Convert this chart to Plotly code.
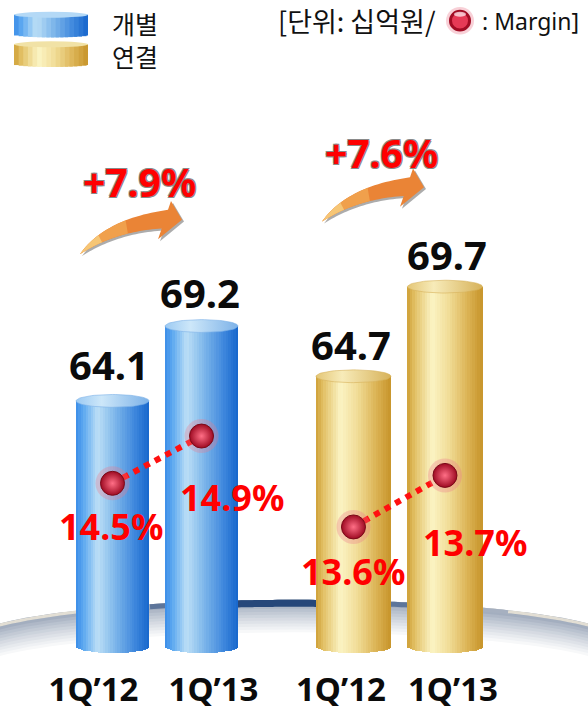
import numpy as np
import plotly.graph_objects as go

# ---------------- data ----------------
periods = ["1Q’12", "1Q’13"]
group_names = ["개별", "연결"]
sales_separate = [64.1, 69.2]          # 십억원
sales_consolidated = [64.7, 69.7]      # 십억원
margin_separate = [14.5, 14.9]         # %
margin_consolidated = [13.6, 13.7]     # %
growth_yoy = [7.9, 7.6]                # %
unit_text = "[단위: 십억원/"
margin_key_text = ": Margin]"

# ---------------- canvas helpers ----------------
W, H = 588, 711
MB = 46
PH = H - MB
FONT = "Noto Sans, Noto Sans CJK KR, sans-serif"
KFONT = "Noto Sans CJK KR, Noto Sans, sans-serif"


def pp(px, py):
    return px / W, (PH - py) / PH


def hex2rgb(h):
    h = h.lstrip("#")
    return tuple(int(h[i:i + 2], 16) for i in (0, 2, 4))


def mix(c0, c1, f):
    a, b = hex2rgb(c0), hex2rgb(c1)
    return "rgb(%d,%d,%d)" % tuple(round(a[i] + (b[i] - a[i]) * f) for i in range(3))


def grad(stops, t):
    for i in range(len(stops) - 1):
        t0, c0 = stops[i]
        t1, c1 = stops[i + 1]
        if t <= t1:
            return mix(c0, c1, (t - t0) / (t1 - t0))
    return mix(stops[-1][1], stops[-1][1], 0)


BLUE = [(0, "#3a8ce8"), (0.1, "#5ca8f0"), (0.3, "#bcdff6"), (0.5, "#86bcec"),
        (0.8, "#3f88dd"), (1, "#1766cc")]
GOLD = [(0, "#cfa036"), (0.1, "#e2c065"), (0.33, "#fbf4c4"), (0.55, "#f1dd98"),
        (0.8, "#dcb456"), (1, "#c7942a")]
BLUE_TOP = [[0, "#9ccaf3"], [0.35, "#cde7f9"], [1, "#7db2e8"]]
GOLD_TOP = [[0, "#e4c676"], [0.35, "#f7ebb9"], [1, "#d7b25a"]]

groups = [
    dict(name=group_names[0], sales=sales_separate, margin=margin_separate,
         growth=growth_yoy[0], xa="x", ya="y", ma="y3",
         dom=[0, 0.5], xr=[-1.264, 2.039], yr=[46.787, 91.412],
         mr=[13.0475, 18.589], base=47.391, pxu=14.902, w=0.82,
         stops=BLUE, top=BLUE_TOP, tick_pos=[-0.213, 1.135],
         mshift=[(-2, -43), (30, -61)], vshift=[(-4, 36), (-2, 34)],
         gpos=(139, 184), arrow_dx=(0, 0)),
    dict(name=group_names[1], sales=sales_consolidated, margin=margin_consolidated,
         growth=growth_yoy[1], xa="x2", ya="y2", ma="y4",
         dom=[0.5, 1], xr=[-0.650, 2.563], yr=[49.151, 85.689],
         mr=[13.3514, 14.6229], base=49.645, pxu=18.2, w=0.82,
         stops=GOLD, top=GOLD_TOP, tick_pos=[-0.137, 1.087],
         mshift=[(0, -45), (30, -67)], vshift=[(-2, 32), (2, 32)],
         gpos=(381, 155), arrow_dx=(242, -33)),
]

fig = go.Figure()
shapes = []
annotations = []

# ---------------- floor (stage) ----------------
CX, CY, EA, EB = 294, 653, 330, 44
NF = 12
for k in range(NF):
    d = 3 * k
    col = mix("#93a0b4", "#ffffff", (k / (NF - 1)) ** 0.8)
    x0, y0 = pp(CX - EA, CY + d + EB)
    x1, y1 = pp(CX + EA, CY + d - EB)
    shapes.append(dict(type="circle", xref="paper", yref="paper", x0=x0, x1=x1,
                       y0=y0, y1=y1, fillcolor=col, line=dict(width=0), layer="below"))


def arc_path(xa, xb, off):
    pts = []
    for x in np.linspace(xa, xb, 80):
        r = 1 - ((x - CX) / EA) ** 2
        y = CY - EB * np.sqrt(max(r, 0)) + off
        pts.append(pp(x, y))
    return "M " + " L ".join("%.5f,%.5f" % p for p in pts)


for xa, xb, col, lw in [(-30, 618, "#e2ded4", 3), (80, 508, "#a6b0c0", 4),
                        (150, 438, "#5d759a", 5), (205, 383, "#26477a", 7)]:
    shapes.append(dict(type="path", xref="paper", yref="paper",
                       path=arc_path(xa, xb, lw / 2), line=dict(color=col, width=lw),
                       layer="below"))

# ---------------- bars (cylinders) ----------------
N = 30
for g in groups:
    w = g["w"]
    hb = 7 / g["pxu"]
    for k in range(N):
        t = (k + 0.5) / N
        u = 2 * t - 1
        off = -w / 2 + k * w / N
        wid = min(w / N * 1.7, w / 2 - off)
        bk = g["base"] - hb * np.sqrt(1 - u * u)
        fig.add_trace(go.Bar(
            x=[0, 1], y=[v - bk for v in g["sales"]], base=bk,
            width=wid, offset=off, marker=dict(color=grad(g["stops"], t), line=dict(width=0)),
            xaxis=g["xa"], yaxis=g["ya"], showlegend=False, hoverinfo="skip"))
    # top ellipses
    ht = 6.5 / g["pxu"]
    th = np.linspace(0, 2 * np.pi, 73)
    for i, v in enumerate(g["sales"]):
        fig.add_trace(go.Scatter(
            x=i + (w / 2) * np.cos(th), y=v + ht * np.sin(th), mode="lines",
            fill="toself", fillgradient=dict(type="horizontal", colorscale=g["top"]),
            line=dict(width=0.6, color=g["top"][2][1]),
            xaxis=g["xa"], yaxis=g["ya"], showlegend=False, hoverinfo="skip"))
        annotations.append(dict(
            x=i, y=v, xref=g["xa"], yref=g["ya"], text="%.1f" % v, showarrow=False,
            xshift=g["vshift"][i][0], yshift=g["vshift"][i][1], yanchor="middle",
            font=dict(family=FONT, size=40, color="#0b0b0b", weight="bold")))

    # margin line + dots
    fig.add_trace(go.Scatter(
        x=[0, 1], y=g["margin"], mode="lines",
        line=dict(color="#ff1010", width=6, dash="6px,6px"),
        xaxis=g["xa"], yaxis=g["ma"], showlegend=False, hoverinfo="skip"))
    fig.add_trace(go.Scatter(
        x=[0, 1], y=g["margin"], mode="markers",
        marker=dict(size=34, color="rgba(235,120,140,0.32)", line=dict(width=0)),
        xaxis=g["xa"], yaxis=g["ma"], showlegend=False, hoverinfo="skip"))
    fig.add_trace(go.Scatter(
        x=[0, 1], y=g["margin"], mode="markers",
        marker=dict(size=24, color="#9e0a22",
                    gradient=dict(type="radial", color="#ff6f86"),
                    line=dict(width=1, color="#7a0a18")),
        xaxis=g["xa"], yaxis=g["ma"], showlegend=False, hoverinfo="skip"))
    for i, m in enumerate(g["margin"]):
        annotations.append(dict(
            x=i, y=m, xref=g["xa"], yref=g["ma"], text="%.1f%%" % m, showarrow=False,
            xshift=g["mshift"][i][0], yshift=g["mshift"][i][1], yanchor="middle",
            font=dict(family=FONT, size=36, color="#ff0000", weight="bold")))

    # growth label
    gx, gy = pp(*g["gpos"])
    annotations.append(dict(
        x=gx, y=gy, xref="paper", yref="paper", text="+%.1f%%" % g["growth"],
        showarrow=False, xanchor="center", yanchor="middle",
        font=dict(family=FONT, size=39, color="#ff0000", weight="bold",
                  shadow="-1px -1px 0 #8a8a8a, 1px -1px 0 #8a8a8a, -1px 1px 0 #8a8a8a, 1px 1px 0 #8a8a8a")))

    # growth arrow (decoration)
    dx, dy = g["arrow_dx"]

    def bez(p0, c, p1, s):
        return ((1 - s) ** 2 * p0[0] + 2 * (1 - s) * s * c[0] + s * s * p1[0],
                (1 - s) ** 2 * p0[1] + 2 * (1 - s) * s * c[1] + s * s * p1[1])

    tail = (80, 258)
    up_c, up_j = (105, 222), (168, 213)
    lo_c, lo_j = (115, 235), (161.7, 232)
    head = [(171, 204), (182, 223), (158, 243)]

    def body_poly(f, with_head):
        ss = np.linspace(0, f, 30)
        pts = [bez(tail, up_c, up_j, s) for s in ss]
        if with_head:
            pts += head
        pts += [bez(tail, lo_c, lo_j, s) for s in ss[::-1]]
        return pts

    def to_path(pts, ox, oy):
        q = [pp(x + ox, y + oy) for x, y in pts]
        return "M " + " L ".join("%.5f,%.5f" % p for p in q) + " Z"

    full = body_poly(1.0, True)
    shapes.append(dict(type="path", xref="paper", yref="paper", path=to_path(full, dx + 2, dy + 2),
                       fillcolor="rgba(70,70,70,0.45)", line=dict(width=0)))
    shapes.append(dict(type="path", xref="paper", yref="paper", path=to_path(full, dx, dy),
                       fillcolor="#ea8436", line=dict(width=0)))
    shapes.append(dict(type="path", xref="paper", yref="paper", path=to_path(body_poly(0.62, False), dx, dy),
                       fillcolor="#f0a04c", line=dict(width=0)))
    shapes.append(dict(type="path", xref="paper", yref="paper", path=to_path(body_poly(0.3, False), dx, dy),
                       fillcolor="#f6c676", line=dict(width=0)))

# ---------------- legend (custom) ----------------
for j, (stops, topc) in enumerate([(BLUE, "#b4d9f6"), (GOLD, "#f1e2a6")]):
    xl, xr = 14, 88
    yt, yb = 15 + 30 * j, 35 + 30 * j
    NL = 16
    dxs = (xr - xl) / NL
    for k in range(NL):
        t = (k + 0.5) / NL
        u = 2 * t - 1
        xa = xl + k * dxs
        xb = min(xa + dxs * 1.7, xr)
        x0, y0 = pp(xa, yb + 3 * np.sqrt(1 - u * u))
        x1, y1 = pp(xb, yt)
        shapes.append(dict(type="rect", xref="paper", yref="paper", x0=x0, x1=x1, y0=y0, y1=y1,
                           fillcolor=grad(stops, t), line=dict(width=0)))
    x0, y0 = pp(xl, yt + 3)
    x1, y1 = pp(xr, yt - 3)
    shapes.append(dict(type="circle", xref="paper", yref="paper", x0=x0, x1=x1, y0=y0, y1=y1,
                       fillcolor=topc, line=dict(width=0)))
lx, ly = pp(110, 40)
annotations.append(dict(x=lx, y=ly, xref="paper", yref="paper", text="<br>".join(group_names),
                        showarrow=False, xanchor="left", yanchor="middle", align="left",
                        font=dict(family=KFONT, size=25, color="#111111")))

# unit note with margin key dot
ux, uy = pp(438, 21)
annotations.append(dict(x=ux, y=uy, xref="paper", yref="paper", text=unit_text, showarrow=False,
                        xanchor="right", yanchor="middle",
                        font=dict(family=KFONT, size=27, color="#111111")))
mx, my = pp(480, 21)
annotations.append(dict(x=mx, y=my, xref="paper", yref="paper", text=margin_key_text, showarrow=False,
                        xanchor="left", yanchor="middle",
                        font=dict(family=FONT, size=23, color="#111111")))
for r, col in [(14, "rgba(235,120,140,0.35)"), (11, "#a20c24"), (8, "#e63a56")]:
    x0, y0 = pp(460 - r, 21 + r)
    x1, y1 = pp(460 + r, 21 - r)
    shapes.append(dict(type="circle", xref="paper", yref="paper", x0=x0, x1=x1, y0=y0, y1=y1,
                       fillcolor=col, line=dict(width=0)))
x0, y0 = pp(454, 17)
x1, y1 = pp(466, 12)
shapes.append(dict(type="circle", xref="paper", yref="paper", x0=x0, x1=x1, y0=y0, y1=y1,
                   fillcolor="rgba(255,235,240,0.75)", line=dict(width=0)))

# ---------------- axes ----------------
tickfont = dict(family=FONT, size=33, color="#0b0b0b", weight="bold")
common_x = dict(showgrid=False, zeroline=False, showline=False, ticks="",
                tickfont=tickfont, ticktext=periods, fixedrange=True, ticklabelstandoff=12)
hidden_y = dict(visible=False, showgrid=False, zeroline=False, fixedrange=True)

fig.update_layout(
    width=W, height=H,
    margin=dict(l=0, r=0, t=0, b=MB, pad=0),
    paper_bgcolor="#ffffff", plot_bgcolor="rgba(0,0,0,0)",
    barmode="overlay", bargap=0, showlegend=False,
    xaxis=dict(domain=groups[0]["dom"], range=groups[0]["xr"], anchor="y",
               tickvals=groups[0]["tick_pos"], **common_x),
    xaxis2=dict(domain=groups[1]["dom"], range=groups[1]["xr"], anchor="y2",
                tickvals=groups[1]["tick_pos"], **common_x),
    yaxis=dict(range=groups[0]["yr"], anchor="x", **hidden_y),
    yaxis2=dict(range=groups[1]["yr"], anchor="x2", **hidden_y),
    yaxis3=dict(range=groups[0]["mr"], anchor="x", overlaying="y", **hidden_y),
    yaxis4=dict(range=groups[1]["mr"], anchor="x2", overlaying="y2", **hidden_y),
    shapes=shapes, annotations=annotations,
    font=dict(family=FONT),
)

fig.write_html("out.html", config={"displayModeBar": False},
               post_script="document.body.style.margin='0px';document.body.style.overflow='hidden';")
